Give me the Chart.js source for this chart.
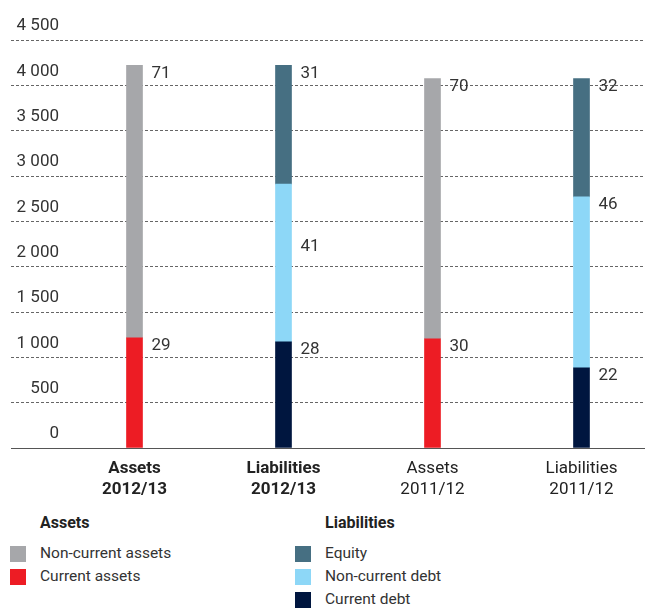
<!DOCTYPE html>
<html>
<head>
<meta charset="utf-8">
<script src="https://cdn.jsdelivr.net/npm/chart.js@4"></script>
<style>
  html, body { margin: 0; padding: 0; background: #fff; overflow: hidden; width: 645px; height: 609px; }
  #wrap { position: absolute; left: 0; top: 0; width: 656px; height: 500px; }
  .legend { position: absolute; font-family: Roboto, sans-serif; color: #222; }
  .legend h4 { margin: 0; position: absolute; font-size: 16px; font-weight: bold; white-space: nowrap; }
  .legend .item { position: absolute; font-size: 15.5px; white-space: nowrap; line-height: 16px; color: #333; }
  .legend .sw { position: absolute; width: 16px; height: 16px; }
</style>
</head>
<body>
<div id="wrap"><canvas id="balanceChart"></canvas></div>
<div id="legend"></div>
<script>
// 數據
const categories = [['Assets', '2012/13'], ['Liabilities', '2012/13'], ['Assets', '2011/12'], ['Liabilities', '2011/12']];
const yTicks = [0, 500, 1000, 1500, 2000, 2500, 3000, 3500, 4000, 4500];

const currentAssets    = [1215, null, 1205, null];
const nonCurrentAssets = [3005, null, 2870, null];
const currentDebt      = [null, 1170, null, 885];
const nonCurrentDebt   = [null, 1740, null, 1885];
const equity           = [null, 1310, null, 1305];

// 百分比標籤
const pctCurrentAssets    = [29, null, 30, null];
const pctNonCurrentAssets = [71, null, 70, null];
const pctCurrentDebt      = [null, 28, null, 22];
const pctNonCurrentDebt   = [null, 41, null, 46];
const pctEquity           = [null, 31, null, 32];

const datasets = [
  { label: 'Current assets', data: currentAssets, pct: pctCurrentAssets, backgroundColor: '#ed1c24' },
  { label: 'Non-current assets', data: nonCurrentAssets, pct: pctNonCurrentAssets, backgroundColor: '#a6a7aa' },
  { label: 'Current debt', data: currentDebt, pct: pctCurrentDebt, backgroundColor: '#00163f' },
  { label: 'Non-current debt', data: nonCurrentDebt, pct: pctNonCurrentDebt, backgroundColor: '#8dd7f7' },
  { label: 'Equity', data: equity, pct: pctEquity, backgroundColor: '#466f82' }
];

// 41 的標籤在參考圖中位置較低
const labelShift = { '3-1': 55 };

const pctLabels = {
  id: 'pctLabels',
  afterDatasetsDraw(chart) {
    const ctx = chart.ctx;
    ctx.save();
    ctx.font = '17px Roboto, sans-serif';
    ctx.fillStyle = '#333';
    ctx.textAlign = 'left';
    ctx.textBaseline = 'middle';
    chart.data.datasets.forEach((ds, di) => {
      chart.getDatasetMeta(di).data.forEach((bar, i) => {
        if (ds.pct[i] == null) return;
        const shift = labelShift[di + '-' + i] || 0;
        ctx.fillText(String(ds.pct[i]), bar.x + bar.width / 2 + 9, bar.y + 8 + shift);
      });
    });
    ctx.restore();
  }
};

new Chart(document.getElementById('balanceChart'), {
  type: 'bar',
  data: {
    labels: categories,
    datasets: datasets.map(d => ({
      label: d.label, data: d.data, pct: d.pct,
      backgroundColor: d.backgroundColor,
      barThickness: 16, borderWidth: 0
    }))
  },
  options: {
    responsive: true,
    maintainAspectRatio: false,
    animation: false,
    layout: { padding: { left: 11, top: 40, right: 0, bottom: 0 } },
    plugins: { legend: { display: false }, tooltip: { enabled: false } },
    scales: {
      x: {
        stacked: true,
        grid: { display: false },
        border: { display: false },
        afterFit: s => { s.height = 52; },
        ticks: {
          padding: 3,
          color: '#222',
          font: c => ({ family: 'Roboto, sans-serif', size: 17, lineHeight: 1.2, weight: c.index < 2 ? 'bold' : 'normal' })
        }
      },
      y: {
        stacked: true,
        min: 0,
        max: 4500,
        afterFit: s => { s.width = 49; },
        afterBuildTicks: s => { s.ticks = yTicks.map(v => ({ value: v })); },
        border: { display: false, dash: c => (c.tick && c.tick.value === 0 ? [] : [3, 2]) },
        grid: {
          color: c => (c.tick && c.tick.value === 0 ? '#555' : '#666'),
          lineWidth: 1,
          drawTicks: true,
          tickLength: 49,
          tickColor: c => (c.tick && c.tick.value === 0 ? '#555' : '#666'),
          tickBorderDash: c => (c.tick && c.tick.value === 0 ? [] : [3, 2])
        },
        ticks: {
          padding: -48,
          labelOffset: -14,
          color: '#333',
          font: { family: 'Roboto, sans-serif', size: 17 },
          callback: v => v >= 1000 ? Math.floor(v / 1000) + ' ' + String(v % 1000).padStart(3, '0') : String(v)
        }
      }
    }
  },
  plugins: [pctLabels]
});

// 圖例
const legendGroups = [
  { title: 'Assets', x: 10, items: [datasets[1], datasets[0]] },
  { title: 'Liabilities', x: 295, items: [datasets[4], datasets[3], datasets[2]] }
];
let html = '';
legendGroups.forEach(g => {
  html += `<div class="legend"><h4 style="left:${g.x + 30}px;top:513px">${g.title}</h4>`;
  g.items.forEach((d, i) => {
    const top = 546 + i * 23;
    html += `<div class="sw" style="left:${g.x}px;top:${top}px;background:${d.backgroundColor}"></div>`;
    html += `<div class="item" style="left:${g.x + 30}px;top:${top - 1}px">${d.label}</div>`;
  });
  html += '</div>';
});
document.getElementById('legend').innerHTML = html;
</script>
</body>
</html>
